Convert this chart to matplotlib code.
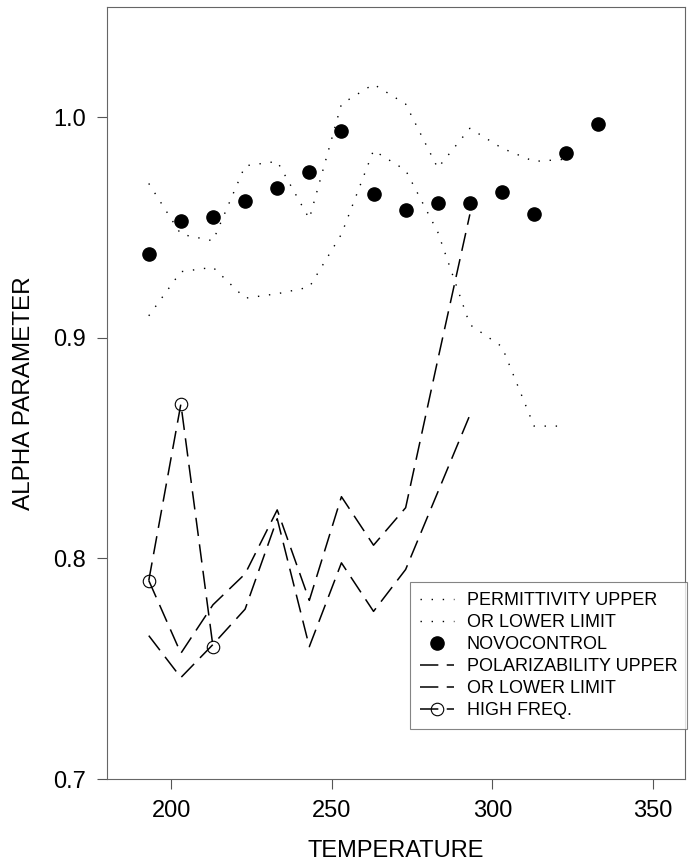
import matplotlib
matplotlib.use("Agg")
import matplotlib.pyplot as plt

plt.rcParams['font.family'] = ['Liberation Sans', 'DejaVu Sans']

# temperatures of the measurements
temps = [193, 203, 213, 223, 233, 243, 253, 263, 273, 283, 293, 303, 313, 323, 333]

novocontrol = [0.938, 0.953, 0.955, 0.962, 0.968, 0.975, 0.994, 0.965,
               0.958, 0.961, 0.961, 0.966, 0.956, 0.984, 0.997]

perm_upper = [0.970, 0.947, 0.944, 0.978, 0.980, 0.954, 1.006, 1.015,
              1.006, 0.977, 0.995, 0.986, 0.980, 0.981]
perm_lower = [0.910, 0.930, 0.932, 0.918, 0.920, 0.923, 0.947, 0.985,
              0.976, 0.948, 0.906, 0.896, 0.860, 0.860]

pol_upper = [0.790, 0.757, 0.779, 0.793, 0.822, 0.781, 0.828, 0.806, 0.823, 0.890, 0.956]
pol_lower = [0.765, 0.746, 0.761, 0.777, 0.818, 0.760, 0.798, 0.776, 0.795, 0.830, 0.865]

hf_temps = [193, 203, 213]
high_freq = [0.790, 0.870, 0.760]

x_ticks = [200, 250, 300, 350]
y_ticks = [0.7, 0.8, 0.9, 1.0]

fig = plt.figure(figsize=(6.95, 8.65), dpi=100)
ax = fig.add_axes([0.154, 0.0994, 0.8316, 0.8925])

dot = (0, (1, 7))
dash = (0, (12, 5.5))

ax.plot(temps[:len(perm_upper)], perm_upper, color='black', lw=1.0, linestyle=dot,
        label='PERMITTIVITY UPPER')
ax.plot(temps[:len(perm_lower)], perm_lower, color='black', lw=1.0, linestyle=dot,
        label='OR LOWER LIMIT')
ax.plot(temps, novocontrol, 'o', color='black', ms=9.5, label='NOVOCONTROL')
ax.plot(temps[:len(pol_upper)], pol_upper, color='black', lw=1.1, linestyle=dash,
        label='POLARIZABILITY UPPER')
ax.plot(temps[:len(pol_lower)], pol_lower, color='black', lw=1.1, linestyle=dash,
        label='OR LOWER LIMIT')
ax.plot(hf_temps, high_freq, color='black', lw=1.1, linestyle=dash, marker='o',
        ms=9, mfc='none', mew=0.8, label='HIGH FREQ.')

ax.set_xlim(180, 360)
ax.set_ylim(0.7, 1.05)
ax.set_xticks(x_ticks)
ax.set_yticks(y_ticks)
ax.set_yticklabels(['%.1f' % v for v in y_ticks])
ax.tick_params(direction='out', length=7, width=0.8, color='#555555',
               labelsize=17, pad=8)
ax.tick_params(axis='y', pad=8)

for sp in ax.spines.values():
    sp.set_color('#666666')
    sp.set_linewidth(0.8)

ax.set_xlabel('TEMPERATURE', fontsize=17, labelpad=13)
ax.set_ylabel('ALPHA PARAMETER', fontsize=17.5, labelpad=13)

leg = ax.legend(loc='upper left', bbox_to_anchor=(410 / 695, 1 - 582 / 865),
                bbox_transform=fig.transFigure, fontsize=13.0, frameon=True,
                fancybox=False, borderpad=0.55, labelspacing=0.28,
                handlelength=1.9, handletextpad=0.7, borderaxespad=0,
                numpoints=1)
leg.get_frame().set_edgecolor('#666666')
leg.get_frame().set_linewidth(0.8)

fig.savefig('out.png', dpi=100)
